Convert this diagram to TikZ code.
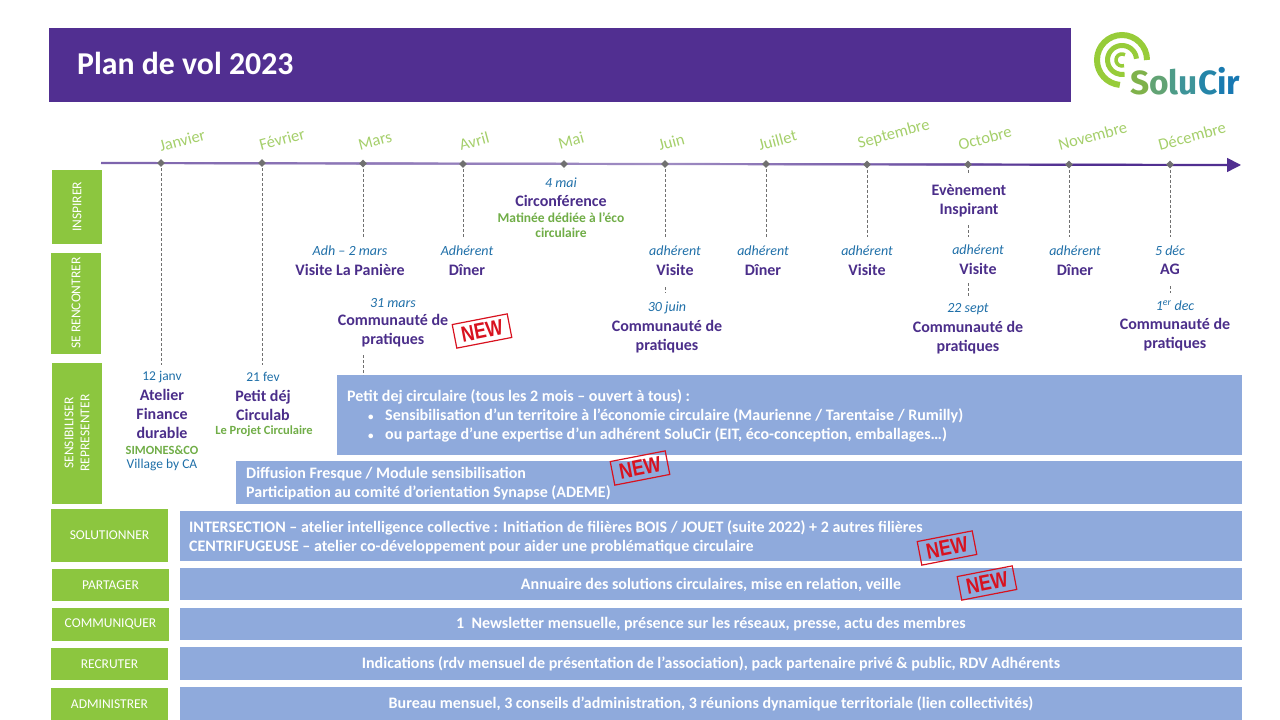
\documentclass[tikz,border=0pt]{standalone}
\usepackage{fontspec}
\usepackage{graphicx}
\setmainfont{Carlito}
\usetikzlibrary{arrows.meta,shapes.geometric}
\definecolor{banner}{HTML}{512F91}
\definecolor{catgreen}{HTML}{8CC63F}
\definecolor{barblue}{HTML}{8FAADC}
\definecolor{evpurple}{HTML}{4B2E8A}
\definecolor{dateblue}{HTML}{1F6FA8}
\definecolor{subgreen}{HTML}{70AD47}
\definecolor{monthgreen}{HTML}{A5CF6B}
\definecolor{stamp}{HTML}{D8121F}
\definecolor{dashgrey}{HTML}{707070}
\pgfdeclarehorizontalshading{axisfade}{100bp}{
 color(0bp)=(banner); color(30bp)=(banner!70!white); color(50bp)=(banner!55!white);
 color(68bp)=(banner); color(80bp)=(banner); color(100bp)=(banner!60!white)}
\tikzset{
 catlab/.style={text=white,inner sep=0pt,font=\fontsize{13.5}{16}\selectfont},
 bartxt/.style={text=white,inner sep=0pt,font=\fontsize{16}{19}\selectfont\bfseries},
 month/.style={text=monthgreen,rotate=15,anchor=south west,inner sep=0pt,font=\fontsize{16.5}{18}\selectfont},
 tick/.style={diamond,fill=dashgrey,inner sep=0pt,minimum size=8pt},
 stem/.style={draw=dashgrey,densely dashed,line width=.6pt},
 date/.style={text=dateblue,inner sep=0pt,align=center,font=\fontsize{14}{16}\selectfont\itshape},
 dateup/.style={text=dateblue,inner sep=0pt,align=center,font=\fontsize{13.5}{15}\selectfont},
 ev/.style={text=evpurple,inner sep=0pt,align=center,font=\fontsize{16}{19}\selectfont\bfseries},
 sub/.style={text=subgreen,inner sep=0pt,align=center,font=\fontsize{12.5}{15}\selectfont\bfseries},
 newstamp/.style={draw=stamp,line width=1.2pt,text=stamp,rotate=11,minimum width=56pt,minimum height=24pt,inner sep=0pt,
   font=\fontspec{Liberation Sans}\fontsize{22}{22}\selectfont\bfseries},
}
\newcommand{\stampword}{\scalebox{.82}[1.0]{NEW}}
\newcommand{\bul}{\hspace*{21pt}\makebox[17pt][l]{\fontsize{11}{11}\selectfont•}}
\begin{document}
\begin{tikzpicture}[x=1pt,y=-1pt]
\useasboundingbox (0,0) rectangle (1280,720);
% banner
\fill[banner] (49,28) rectangle (1071,102);
\node[text=white,anchor=west,inner sep=0pt,font=\fontsize{31.8}{34}\selectfont\bfseries] (title) at (77,63) {Plan de vol 2023};
% logo
\begin{scope}[shift={(1122,60)},x=1pt,y=1pt,draw=catgreen!90!yellow]
\draw[line width=6pt] (0:25) arc[start angle=0,end angle=265,radius=25];
\draw[line width=5pt] (5:14.5) arc[start angle=5,end angle=280,radius=14.5];
\draw[line width=3.5pt] (60:6) arc[start angle=60,end angle=290,radius=6];
\end{scope}
\node[inner sep=0pt,anchor=base west,font=\fontspec{Fira Sans}\bfseries\fontsize{33.5}{36}\selectfont] (logotext) at (1130,94)
 {\textcolor[HTML]{7FB24A}{S}\textcolor[HTML]{62A374}{o}\textcolor[HTML]{4E9C88}{l}\textcolor[HTML]{3E9499}{u}\textcolor[HTML]{2585A8}{C}\textcolor[HTML]{1A7BB0}{i}\textcolor[HTML]{1878B2}{r}};
% category boxes
\fill[catgreen] (52,170) rectangle (102,244);
\node[catlab,rotate=90] (inspirer) at (77,207) {INSPIRER};
\fill[catgreen] (51,253) rectangle (101,354);
\node[catlab,rotate=90] (rencontrer) at (76,303) {SE RENCONTRER};
\fill[catgreen] (52,363) rectangle (102,504);
\node[catlab,rotate=90,align=center] (sensibiliser) at (77,433) {SENSIBILISER\\REPRESENTER};
\foreach \n/\a/\b/\c/\d/\t in {solutionner/51/509/168/562/SOLUTIONNER,partager/52/569/169/601/PARTAGER,communiquer/52/608/169/641/COMMUNIQUER,recruter/51/648/168/680/RECRUTER,administrer/51/688/168/720/ADMINISTRER}{
 \fill[catgreen] (\a,\b) rectangle (\c,\d);
 \node[catlab] (\n) at ({(\a+\c)/2},{(\b+\d)/2}) {\t};
}
% blue bars
\fill[barblue] (337,375) rectangle (1242,455);
\fill[barblue] (236,461) rectangle (1242,504);
\fill[barblue] (180,511) rectangle (1242,561);
\fill[barblue] (180,568) rectangle (1242,600);
\fill[barblue] (180,608) rectangle (1242,640);
\fill[barblue] (180,647) rectangle (1242,680);
\fill[barblue] (180,687) rectangle (1242,720);
\node[bartxt,anchor=west,align=left] (petitdej) at (347,416) {Petit dej circulaire (tous les 2 mois – ouvert à tous) :\\
 \bul Sensibilisation d’un territoire à l’économie circulaire (Maurienne / Tarentaise / Rumilly)\\
 \bul ou partage d’une expertise d’un adhérent SoluCir (EIT, éco-conception, emballages…)};
\node[bartxt,anchor=west,align=left] (diffusion) at (246,484) {Diffusion Fresque / Module sensibilisation\\Participation au comité d’orientation Synapse (ADEME)};
\node[bartxt,anchor=west,align=left] (intersection) at (189,537) {INTERSECTION – atelier intelligence collective : Initiation de filières BOIS / JOUET (suite 2022) + 2 autres filières\\CENTRIFUGEUSE – atelier co-développement pour aider une problématique circulaire};
\node[bartxt] (annuaire) at (711,585) {Annuaire des solutions circulaires, mise en relation, veille};
\node[bartxt] (newsletter) at (711,624) {1\ \ Newsletter mensuelle, présence sur les réseaux, presse, actu des membres};
\node[bartxt] (indications) at (711,664) {Indications (rdv mensuel de présentation de l’association), pack partenaire privé \& public, RDV Adhérents};
\node[bartxt] (bureau) at (711,704) {Bureau mensuel, 3 conseils d’administration, 3 réunions dynamique territoriale (lien collectivités)};
% axis
\coordinate (axisstart) at (101,163);
\coordinate (axisend) at (1241,165);
\draw[banner,line width=1.6pt,-{Triangle[length=14pt,width=14pt]}] (axisstart) -- (axisend);
\shade[shading=axisfade] (101,161.9) -- (1228,163.9) -- (1228,166.1) -- (101,164.1) -- cycle;
% ticks
\foreach \n/\x/\y in {1/161/163,2/262/163,3/363/163.5,4/463/164,5/564/164,6/665/164,7/766/164,8/867/164.5,9/968/164.5,10/1069/164.5,11/1170/164.5}{
 \coordinate (a\n) at (\x,\y);
}
% stems
\foreach \n/\e in {1/365,2/365,3/237,4/237,5/169,6/237,7/237,8/237,9/174,10/237,11/237}{
 \draw[stem] (a\n) -- (a\n |- 0,\e);
}
\draw[stem] (363,355) -- (363,375);
\draw[stem] (665,287) -- (665,293);
\draw[stem] (968,225) -- (968,237);
\draw[stem] (968,283) -- (968,296);
\draw[stem] (1170,286) -- (1170,293);
\foreach \n in {1,...,11}{\node[tick] (t\n) at (a\n) {};}
% months
\node[month] (janvier) at (161,152) {Janvier};
\node[month] (fevrier) at (261,151) {Février};
\node[month] (mars) at (360,151) {Mars};
\node[month] (avril) at (461,151) {Avril};
\node[month] (mai) at (560,150) {Mai};
\node[month] (juin) at (660,151) {Juin};
\node[month] (juillet) at (760,151) {Juillet};
\node[month] (septembre) at (860,151) {Septembre};
\node[month] (octobre) at (960,151) {Octobre};
\node[month] (novembre) at (1060,151) {Novembre};
\node[month] (decembre) at (1160,151) {Décembre};
% events
\node[dateup] (d1) at (162,377) {12 janv};
\node[ev] (e1) at (162,414) {Atelier\\Finance\\durable};
\node[sub] (s1) at (162,450) {SIMONES\&CO};
\node[dateup] (d1b) at (162,465) {Village by CA};
\node[dateup] (d2) at (263,377) {21 fev};
\node[ev] (e2) at (263,405) {Petit déj\\Circulab};
\node[sub] (s2) at (264,431) {Le Projet Circulaire};
\node[date] (d3) at (350,251) {Adh – 2 mars};
\node[ev] (e3) at (350,270) {Visite La Panière};
\node[date] (d3b) at (393,303) {31 mars};
\node[ev] (e3b) at (393,331) {Communauté de\\pratiques};
\node[date] (d4) at (467,251) {Adhérent};
\node[ev] (e4) at (467,270) {Dîner};
\node[date] (d5) at (561,183) {4 mai};
\node[ev] (e5) at (561,201) {Circonférence};
\node[sub,font=\fontsize{13.5}{15}\selectfont\bfseries] (s5) at (561,225) {Matinée dédiée à l’éco\\circulaire};
\node[date] (d6) at (675,251) {adhérent};
\node[ev] (e6) at (675,270) {Visite};
\node[date] (d6b) at (667,308) {30 juin};
\node[ev] (e6b) at (667,337) {Communauté de\\pratiques};
\node[date] (d7) at (763,251) {adhérent};
\node[ev] (e7) at (763,270) {Dîner};
\node[date] (d8) at (867,251) {adhérent};
\node[ev] (e8) at (867,270) {Visite};
\node[ev] (e9) at (969,200.5) {Evènement\\Inspirant};
\node[date] (d9) at (978,250) {adhérent};
\node[ev] (e9b) at (978,269) {Visite};
\node[date] (d9c) at (968,309) {22 sept};
\node[ev] (e9c) at (968,337.5) {Communauté de\\pratiques};
\node[date] (d10) at (1075,251) {adhérent};
\node[ev] (e10) at (1075,270) {Dîner};
\node[date] (d11) at (1170,251) {5 déc};
\node[ev] (e11) at (1170,269) {AG};
\node[date] (d11b) at (1175,306) {1\textsuperscript{er} dec};
\node[ev] (e11b) at (1175,334.5) {Communauté de\\pratiques};
% stamps
\node[newstamp] (new1) at (482,331) {\stampword};
\node[newstamp] (new2) at (640,468) {\stampword};
\node[newstamp] (new3) at (947,548) {\stampword};
\node[newstamp] (new4) at (987,583) {\stampword};
\end{tikzpicture}
\end{document}
